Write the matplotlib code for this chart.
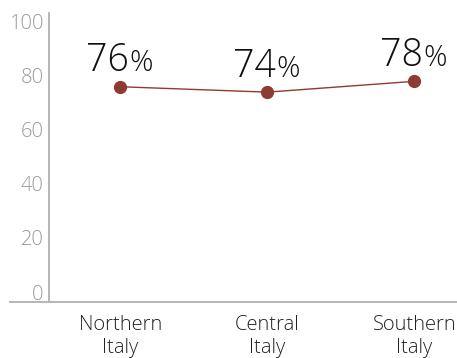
import matplotlib
matplotlib.use("Agg")
import matplotlib.pyplot as plt
from matplotlib.lines import Line2D

plt.rcParams['font.family'] = ['Open Sans', 'DejaVu Sans']
plt.rcParams['font.weight'] = 'light'

categories = ["Northern\nItaly", "Central\nItaly", "Southern\nItaly"]
values = [76, 74, 78]
yticks = [0, 20, 40, 60, 80, 100]

line_color = "#8e3b33"
W, H, DPI = 457, 358, 100
fig = plt.figure(figsize=(W / DPI, H / DPI), dpi=DPI)

left_px, right_px, top_px, bottom_px = 49, 457, 13, 302
ax = fig.add_axes([left_px / W, 1 - bottom_px / H,
                   (right_px - left_px) / W, (bottom_px - top_px) / H])

x = list(range(len(categories)))
ax.plot(x, values, color=line_color, lw=1.0, marker="o", markersize=8.5,
        markerfacecolor=line_color, markeredgecolor=line_color, clip_on=False)

for xi, v in zip(x, values):
    ax.annotate(f"{v}", (xi, v), xytext=(6, 11), textcoords="offset points",
                ha="right", va="baseline", fontsize=27, color="#111111",
                fontweight="light")
    ax.annotate("%", (xi, v), xytext=(6.3, 11), textcoords="offset points",
                ha="left", va="baseline", fontsize=21, color="#111111",
                fontweight="light")

ax.set_xlim(-0.484, 2.29)
ax.set_ylim(-3.7, 103.3)
ax.set_yticks(yticks)
ax.set_yticklabels([str(t) for t in yticks], fontsize=14.5, color="#9a9a9a",
                   fontweight="light")
ax.tick_params(axis="y", length=0, pad=4)
ax.set_xticks(x)
ax.set_xticklabels(categories, fontsize=14.5, color="#222222", linespacing=1.2,
                   fontweight="light")
ax.tick_params(axis="x", length=0, pad=9)

for s in ["top", "right", "bottom"]:
    ax.spines[s].set_visible(False)
ax.spines["left"].set_color("#b0b0b0")
ax.spines["left"].set_linewidth(1.3)

y_base = 1 - bottom_px / H
fig.add_artist(Line2D([10 / W, 1.0], [y_base, y_base], color="#b0b0b0", lw=1.3))

fig.savefig("out.png", dpi=DPI)
